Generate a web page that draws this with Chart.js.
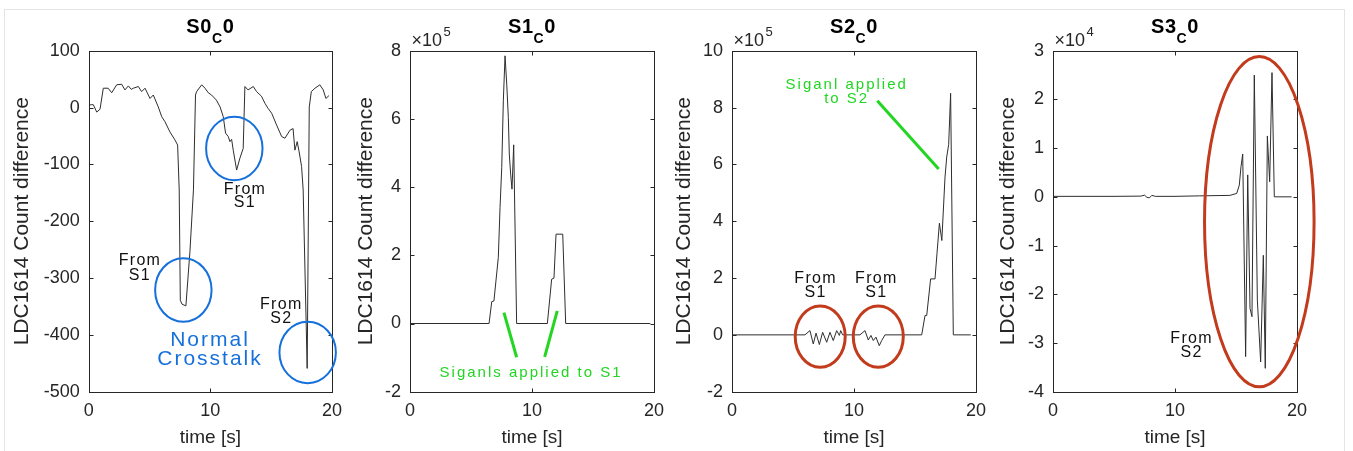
<!DOCTYPE html>
<html><head><meta charset="utf-8">
<script src="https://cdn.jsdelivr.net/npm/chart.js@4.4.1/dist/chart.umd.min.js"></script>
<style>
html,body{margin:0;padding:0;background:#fff;}
#wrap{position:relative;width:1353px;height:451px;overflow:hidden;background:#fff;}
#wrap canvas{position:absolute;left:0;top:0;}
#frame{position:absolute;left:4px;top:9px;width:1341px;height:470px;border:1px solid #e4e4e4;box-sizing:border-box;}
</style></head><body>
<div id="wrap"><div id="frame"></div>
<canvas id="c0" width="1353" height="451"></canvas>
<canvas id="c1" width="1353" height="451"></canvas>
<canvas id="c2" width="1353" height="451"></canvas>
<canvas id="c3" width="1353" height="451"></canvas>
</div>
<script>
// ---------- data ----------
const s0Time = [0,0.2,0.38,0.66,0.93,1.2,1.6,1.89,2.3,2.71,2.98,3.26,3.5,3.67,4.08,4.35,4.63,5.04,5.31,5.72,6.0,6.27,6.68,7.09,7.31,7.44,7.53,7.67,7.99,8.32,8.61,8.78,8.87,9.29,9.56,9.83,10.1,10.5,10.8,11.06,11.25,11.47,11.61,11.75,11.88,12.16,12.43,12.7,12.84,13.1,13.53,13.8,14.2,14.5,14.76,15.04,15.45,15.86,16.13,16.54,16.8,16.95,17.14,17.3,17.5,17.63,17.96,18.13,18.3,18.6,19.0,19.28,19.5,19.75];
const s0Vals = [4,5,5,-8,-3,34,34,26,40,41,31,38,32,34,37,28,34,16,22,1,-16,-25,-43,-57,-66,-145,-339,-346,-349,-254,-145,22,28,40,34,26,22,13,1,-16,-45,-51,-60,-56,-75,-110,-89,-72,37,31,37,28,20,7,-2,-10,-31,-51,-54,-40,-37,-75,-60,-78,-104,-145,-459,1,28,34,40,31,16,21];

const s1Time = [0,6.48,6.7,6.88,7.24,7.38,7.52,7.65,7.79,7.93,8.06,8.14,8.25,8.36,8.5,8.74,11.26,11.61,11.8,11.97,12.52,12.76,19.7];
const s1Vals = [0,0,64000,66000,194000,340000,457000,653000,785000,702000,604000,497000,438000,394000,524000,0,0,130000,133000,262000,262000,0,0];

const s2Time = [0,5.98,6.39,6.66,6.89,7.16,7.43,7.76,8.03,8.3,8.58,8.8,8.91,9.07,10.49,10.9,11.17,11.39,11.58,11.8,12.07,12.27,12.54,15.55,15.82,15.96,16.28,16.64,16.8,17.0,17.2,17.46,17.6,17.76,17.92,18.14,19.57];
const s2Vals = [0,0,15000,-32000,6000,-34000,9000,-26000,9000,-20000,15000,-2000,15000,0,0,15000,-18000,-2000,-20000,-8000,-38000,-20000,0,0,68000,68000,197000,197000,285000,393000,332000,555000,626000,670000,850000,0,0];

const s3Time = [0,5,7.2,7.5,7.7,7.9,8.1,8.4,10,12,14.5,15.06,15.27,15.41,15.55,15.79,15.96,16.15,16.31,16.5,16.75,17.02,17.24,17.4,17.57,17.76,17.95,18.14,19.56];
const s3Vals = [100,100,150,350,-100,-200,300,100,100,200,300,700,2400,6200,8800,-32800,4500,-22900,-24600,25000,-21200,-33900,-12000,-35200,12500,3100,25500,0,0];

const xTicks = [0,10,20];
const yTickSteps = [100,200000,200000,10000];
const yRanges = [[-500,100],[-200000,800000],[-200000,1000000],[-40000,30000]];
const tickScale = [1,1e5,1e5,1e4];
const exponents = [null,'5','5','4'];
const titles = [['S0','C','0'],['S1','C','0'],['S2','C','0'],['S3','C','0']];
const xTitle = 'time [s]';
const yTitle = 'LDC1614 Count difference';

// ---------- annotations (data coordinates) ----------
const BLUE = '#1670dc', RED = '#c23b1c', GREEN = '#22d622';
const annots = [
  { ellipses:[
      {cx:11.97, cy:-72, rx:2.32, ry:56, color:BLUE, w:2},
      {cx:7.78, cy:-321, rx:2.32, ry:56, color:BLUE, w:2},
      {cx:18.0, cy:-431, rx:2.32, ry:54, color:BLUE, w:2}],
    lines:[],
    texts:[
      {t:12.79, v:-144, s:'From', size:16, color:'#111', sp:1.3},
      {t:12.79, v:-168, s:'S1', size:16, color:'#111', sp:1.3},
      {t:4.16, v:-270, s:'From', size:16, color:'#111', sp:1.3},
      {t:4.16, v:-295, s:'S1', size:16, color:'#111', sp:1.3},
      {t:15.78, v:-346, s:'From', size:16, color:'#111', sp:1.3},
      {t:15.78, v:-371, s:'S2', size:16, color:'#111', sp:1.3},
      {t:9.89, v:-410, s:'Normal', size:21, color:BLUE, sp:2},
      {t:9.89, v:-443, s:'Crosstalk', size:21, color:BLUE, sp:2}]},
  { ellipses:[],
    lines:[
      {t1:7.7, v1:32000, t2:8.74, v2:-99000, color:GREEN, w:3},
      {t1:12.07, v1:37000, t2:11.04, v2:-98000, color:GREEN, w:3}],
    texts:[{t:9.84, v:-144000, s:'Siganls applied to S1', size:15, color:GREEN, sp:2}]},
  { ellipses:[
      {cx:7.23, cy:-6000, rx:2.05, ry:108000, color:RED, w:3},
      {cx:11.99, cy:-6000, rx:2.05, ry:108000, color:RED, w:3}],
    lines:[{t1:11.91, v1:824000, t2:16.94, v2:584000, color:GREEN, w:3}],
    texts:[
      {t:9.32, v:881000, s:'Siganl applied', size:15, color:GREEN, sp:2},
      {t:9.32, v:829000, s:'to S2', size:15, color:GREEN, sp:2},
      {t:6.8, v:199000, s:'From', size:16, color:'#111', sp:1.3},
      {t:6.8, v:148000, s:'S1', size:16, color:'#111', sp:1.3},
      {t:11.78, v:199000, s:'From', size:16, color:'#111', sp:1.3},
      {t:11.78, v:148000, s:'S1', size:16, color:'#111', sp:1.3}]},
  { ellipses:[{cx:16.91, cy:-5100, rx:4.49, ry:33900, color:RED, w:3}],
    lines:[],
    texts:[
      {t:11.31, v:-29100, s:'From', size:16, color:'#111', sp:1.3},
      {t:11.31, v:-31900, s:'S2', size:16, color:'#111', sp:1.3}]}
];

// ---------- layout ----------
const W = 1353, H = 451;
const plotTop = 50.7, plotBottom = 391.7;
const plotLefts = [88.7, 410, 732, 1053];
const plotRights = [332, 654, 976, 1297];
const yTitleCenters = [22.5, 366, 684, 1008];
const FONT = '"Liberation Sans", Arial, Helvetica, sans-serif';
const AX = '#262626';

function setSpacing(ctx, sp){ try { ctx.letterSpacing = (sp||0) + 'px'; } catch(e){} }

function drawText(ctx, s, x, y, size, color, sp, bold){
  ctx.font = (bold?'bold ':'') + size + 'px ' + FONT;
  ctx.fillStyle = color;
  setSpacing(ctx, sp);
  ctx.textAlign = 'center'; ctx.textBaseline = 'middle';
  ctx.fillText(s, x + (sp||0)/2, y);
  setSpacing(ctx, 0);
}

const boxPlugin = {
  id:'box',
  afterDraw(chart, args, o){
    const {ctx, chartArea:a} = chart;
    const x = chart.scales.x, y = chart.scales.y;
    ctx.save();
    // axes box
    ctx.strokeStyle = AX; ctx.lineWidth = 1;
    const L = Math.round(a.left)+0.5, R = Math.round(a.right)+0.5, T = Math.round(a.top)+0.5, B = Math.round(a.bottom)+0.5;
    ctx.strokeRect(L, T, R-L, B-T);
    ctx.beginPath();
    x.ticks.forEach(t=>{ const px = Math.round(x.getPixelForValue(t.value))+0.5;
      ctx.moveTo(px,B); ctx.lineTo(px,B-4); ctx.moveTo(px,T); ctx.lineTo(px,T+4); });
    y.ticks.forEach(t=>{ const py = Math.round(y.getPixelForValue(t.value))+0.5;
      ctx.moveTo(L,py); ctx.lineTo(L+4,py); ctx.moveTo(R,py); ctx.lineTo(R-4,py); });
    ctx.stroke();
    // title with subscript
    const [t1,sub,t2] = o.title;
    ctx.fillStyle = '#000'; ctx.textBaseline = 'alphabetic'; ctx.textAlign = 'left';
    setSpacing(ctx, 0.6);
    ctx.font = 'bold 20px ' + FONT; const w1 = ctx.measureText(t1).width, w3 = ctx.measureText(t2).width;
    ctx.font = 'bold 14px ' + FONT; const w2 = ctx.measureText(sub).width;
    let sx = (a.left + a.right)/2 - (w1+w2+w3)/2;
    ctx.font = 'bold 20px ' + FONT; ctx.fillText(t1, sx, 32.7); sx += w1;
    ctx.font = 'bold 14px ' + FONT; ctx.fillText(sub, sx, 42.5); sx += w2;
    ctx.font = 'bold 20px ' + FONT; ctx.fillText(t2, sx, 32.7);
    setSpacing(ctx, 0);
    // exponent
    if (o.exp){
      ctx.fillStyle = AX;
      ctx.font = '18px ' + FONT;
      const ex = a.left + 1.5;
      ctx.fillText('\u00d710', ex, 45.5);
      const we = ctx.measureText('\u00d710').width;
      ctx.font = '13px ' + FONT;
      ctx.fillText(o.exp, ex + we + 1.5, 35.5);
    }
    // annotations
    const an = o.an;
    an.ellipses.forEach(e=>{
      const cx = x.getPixelForValue(e.cx), cy = y.getPixelForValue(e.cy);
      const rx = Math.abs(x.getPixelForValue(e.cx+e.rx)-cx), ry = Math.abs(y.getPixelForValue(e.cy+e.ry)-cy);
      ctx.beginPath(); ctx.ellipse(cx, cy, rx, ry, 0, 0, Math.PI*2);
      ctx.strokeStyle = e.color; ctx.lineWidth = e.w; ctx.stroke();
    });
    an.lines.forEach(l=>{
      ctx.beginPath();
      ctx.moveTo(x.getPixelForValue(l.t1), y.getPixelForValue(l.v1));
      ctx.lineTo(x.getPixelForValue(l.t2), y.getPixelForValue(l.v2));
      ctx.strokeStyle = l.color; ctx.lineWidth = l.w; ctx.lineCap = 'butt'; ctx.stroke();
    });
    an.texts.forEach(t=>{
      drawText(ctx, t.s, x.getPixelForValue(t.t), y.getPixelForValue(t.v), t.size, t.color, t.sp, false);
    });
    ctx.restore();
  }
};

const series = [[s0Time,s0Vals],[s1Time,s1Vals],[s2Time,s2Vals],[s3Time,s3Vals]];

series.forEach(([ts, vs], i)=>{
  const padL = yTitleCenters[i] - 12.6;
  const yW = plotLefts[i] - padL;
  const xH = 449 - plotBottom;
  new Chart(document.getElementById('c'+i), {
    type:'line',
    data:{ datasets:[{
      data: ts.map((t,k)=>({x:t, y:vs[k]})),
      borderColor:'#2e2e2e', borderWidth:1, pointRadius:0, fill:false, tension:0
    }]},
    options:{
      responsive:false, animation:false, events:[], devicePixelRatio:1,
      layout:{ padding:{ left:padL, right:W-plotRights[i], top:plotTop, bottom:H-449 } },
      plugins:{ legend:{display:false}, tooltip:{enabled:false},
        box:{ title:titles[i], exp:exponents[i], an:annots[i] } },
      scales:{
        x:{ type:'linear', min:xTicks[0], max:xTicks[xTicks.length-1],
            afterBuildTicks(s){ s.ticks = xTicks.map(v=>({value:v})); },
            ticks:{ padding:9, color:AX, font:{family:FONT, size:18}, maxRotation:0, autoSkip:false },
            grid:{ display:false, drawTicks:false }, border:{ display:false },
            title:{ display:true, text:xTitle, color:AX, padding:0, font:{family:FONT, size:19, lineHeight:1.2} },
            afterFit(s){ s.height = xH; } },
        y:{ type:'linear', min:yRanges[i][0], max:yRanges[i][1],
            ticks:{ stepSize:yTickSteps[i], padding:9, color:AX, font:{family:FONT, size:18},
                    callback:(v)=>String(Math.round(v/tickScale[i])) },
            grid:{ display:false, drawTicks:false }, border:{ display:false },
            title:{ display:true, text:yTitle, color:AX, padding:0, font:{family:FONT, size:21, lineHeight:1.2} },
            afterFit(s){ s.width = yW; } }
      }
    },
    plugins:[boxPlugin]
  });
});
</script>
</body></html>
